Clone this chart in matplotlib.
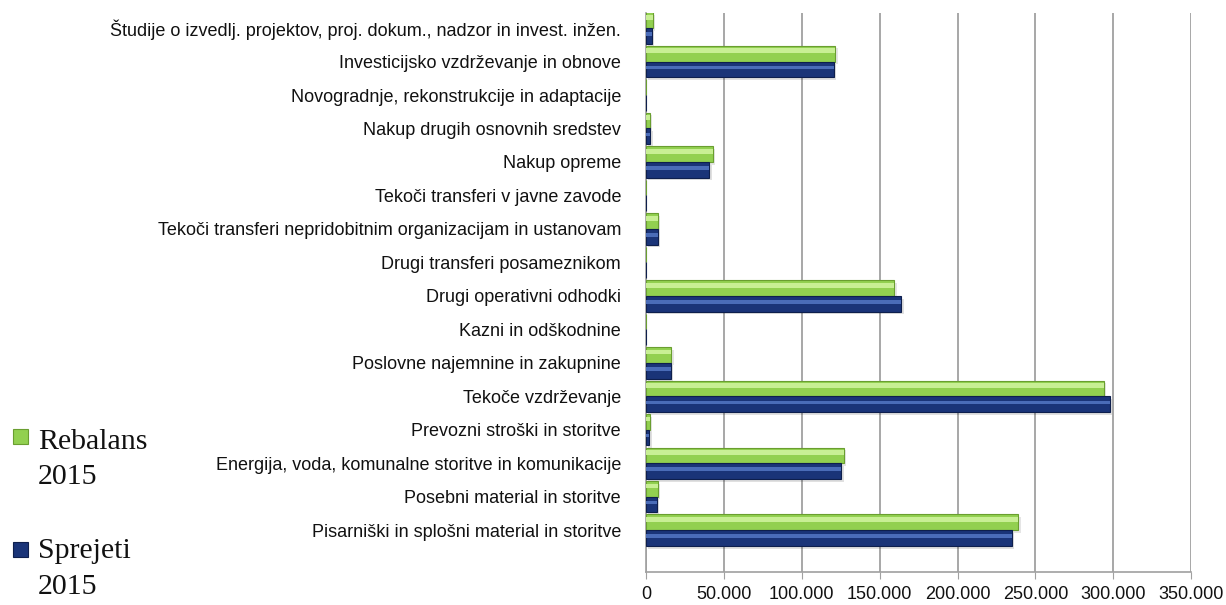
import numpy as np
import matplotlib
matplotlib.use("Agg")
import matplotlib.pyplot as plt
from matplotlib.ticker import FuncFormatter
from matplotlib.patches import Rectangle

# kategorije od spodaj navzgor (kot v grafu)
kategorije = [
    "Pisarniški in splošni material in storitve",
    "Posebni material in storitve",
    "Energija, voda, komunalne storitve in komunikacije",
    "Prevozni stroški in storitve",
    "Tekoče vzdrževanje",
    "Poslovne najemnine in zakupnine",
    "Kazni in odškodnine",
    "Drugi operativni odhodki",
    "Drugi transferi posameznikom",
    "Tekoči transferi nepridobitnim organizacijam in ustanovam",
    "Tekoči transferi v javne zavode",
    "Nakup opreme",
    "Nakup drugih osnovnih sredstev",
    "Novogradnje, rekonstrukcije in adaptacije",
    "Investicijsko vzdrževanje in obnove",
    "Študije o izvedlj. projektov, proj. dokum., nadzor in invest. inžen.",
]

rebalans_2015 = [239000, 7700, 127000, 2200, 294000, 16100, 0, 159400, 0, 7500, 0, 43000, 2600, 0, 121600, 4300]
sprejeti_2015 = [235000, 7000, 125300, 2000, 297700, 16000, 0, 164000, 0, 7500, 0, 40600, 2800, 0, 120700, 3600]

x_ticks = [0, 50000, 100000, 150000, 200000, 250000, 300000, 350000]

ZELENA = "#92d050"
ZELENA_SVETLA = "#c8ef94"
ZELENA_ROB = "#6a9e30"
MODRA = "#1a3478"
MODRA_SVETLA = "#4a6cb8"
MODRA_ROB = "#0e1f4d"

plt.rcParams["font.family"] = ["Liberation Sans", "DejaVu Sans"]

fig = plt.figure(figsize=(12.26, 6.05), dpi=100)
ax = fig.add_axes([0.527, 0.0545, 0.4445, 0.924])

y = np.arange(len(kategorije))
h = 0.47

# senca
ax.barh(y + h / 2 - 0.08, rebalans_2015, height=h, left=1500, color="#000000", alpha=0.10, zorder=2)
ax.barh(y - h / 2 - 0.08, sprejeti_2015, height=h, left=1500, color="#000000", alpha=0.12, zorder=2)

# glavni stolpci
ax.barh(y + h / 2, rebalans_2015, height=h, color=ZELENA, edgecolor=ZELENA_ROB, linewidth=0.8, zorder=3)
ax.barh(y - h / 2, sprejeti_2015, height=h, color=MODRA, edgecolor=MODRA_ROB, linewidth=0.8, zorder=3)

# odsev (bevel)
ax.barh(y + h / 2 + h * 0.18, rebalans_2015, height=h * 0.3, color=ZELENA_SVETLA, linewidth=0, zorder=4)
ax.barh(y - h / 2 + h * 0.12, sprejeti_2015, height=h * 0.22, color=MODRA_SVETLA, linewidth=0, zorder=4)

ax.set_xlim(0, 350000)
ax.set_ylim(-1.25, 15.45)
ax.set_xticks(x_ticks)
ax.xaxis.set_major_formatter(FuncFormatter(lambda v, p: f"{int(v):,}".replace(",", ".")))
ax.set_yticks(y)
ax.set_yticklabels(kategorije)

ax.grid(axis="x", color="#a0a0a0", linewidth=1.3, zorder=0)
ax.set_axisbelow(True)
for s in ["top", "right"]:
    ax.spines[s].set_visible(False)
ax.spines["left"].set_color("#a0a0a0")
ax.spines["bottom"].set_color("#a0a0a0")
ax.spines["left"].set_linewidth(1.2)
ax.spines["bottom"].set_linewidth(1.2)

ax.tick_params(axis="y", length=0, pad=18, labelsize=13, labelcolor="#111111")
ax.tick_params(axis="x", length=5, color="#a0a0a0", pad=5, labelsize=13, labelcolor="#111111")

# legenda
def leg(y_kv, barva, rob, vrstice, y_txt):
    fig.patches.append(Rectangle((13 / 1226, 1 - (y_kv + 15) / 605), 15 / 1226, 15 / 605,
                                 transform=fig.transFigure, facecolor=barva, edgecolor=rob, linewidth=0.8))
    for t, yy in zip(vrstice, y_txt):
        fig.text(38 / 1226, 1 - yy / 605, t, family=["Liberation Serif", "DejaVu Serif"],
                 fontsize=21.5, va="baseline", ha="left", color="#111111")

leg(429, ZELENA, ZELENA_ROB, ["Rebalans", "2015"], [449, 484])
leg(542, MODRA, MODRA_ROB, ["Sprejeti", "2015"], [558, 594])

fig.savefig("out.png", dpi=100, facecolor="white")
